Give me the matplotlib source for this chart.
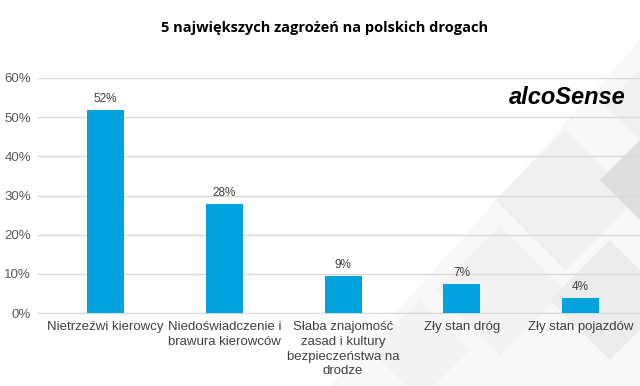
import matplotlib.pyplot as plt
from matplotlib.patches import Polygon

categories = ["Nietrzeźwi kierowcy", "Niedoświadczenie i\nbrawura kierowców",
              "Słaba znajomość\nzasad i kultury\nbezpieczeństwa na\ndrodze",
              "Zły stan dróg", "Zły stan pojazdów"]
values = [51.8, 27.8, 9.4, 7.4, 3.8]
value_labels = ["52%", "28%", "9%", "7%", "4%"]
yticks = [0, 10, 20, 30, 40, 50, 60]

plt.rcParams['font.family'] = ['Liberation Sans', 'DejaVu Sans']

fig = plt.figure(figsize=(6.4, 3.86), dpi=100)
W, H = 640, 386

# background decoration (light diamonds on the right), in pixel coords
bg = fig.add_axes([0, 0, 1, 1], zorder=-10)
bg.set_xlim(0, W)
bg.set_ylim(H, 0)
bg.axis('off')
bg.add_patch(Polygon([(640, 40), (640, 386), (330, 386)], closed=True,
                     facecolor='#f8f8f8', edgecolor='none'))
diamonds = [
    ((565, 200), 70, '#f0f0f0'),
    ((640, 180), 40, '#dedede'),
    ((500, 290), 65, '#f2f2f2'),
    ((610, 300), 60, '#ececec'),
    ((420, 350), 50, '#f3f3f3'),
    ((640, 105), 35, '#f0f0f0'),
]
for (cx, cy), r, c in diamonds:
    bg.add_patch(Polygon([(cx - r, cy), (cx, cy - r), (cx + r, cy), (cx, cy + r)], closed=True,
                         facecolor=c, edgecolor='none'))

ax = fig.add_axes([38 / W, 1 - 313 / H, 1 - 38 / W, (313 - 78) / H])
ax.set_facecolor('none')

x = list(range(len(categories)))
bars = ax.bar(x, values, width=0.31, color='#00A3DD', zorder=3)
for xi, v, lab in zip(x, values, value_labels):
    ax.text(xi, v + 1.3, lab, ha='center', va='bottom', fontsize=8.5, color='#404040')

ax.set_xlim(-0.57, 4.5)
ax.set_ylim(0, 60)
ax.set_yticks(yticks)
ax.set_yticklabels([f"{t}%" for t in yticks], fontsize=9.5, color='#595959')
ax.set_xticks(x)
ax.set_xticklabels(categories, fontsize=9.5, color='#404040', linespacing=1.3)
ax.tick_params(axis='both', length=0, pad=4)
ax.tick_params(axis='x', pad=6)
ax.tick_params(axis='y', pad=5)
ax.yaxis.grid(True, color='#d9d9d9', linewidth=1, zorder=0)
for s in ['top', 'right', 'left']:
    ax.spines[s].set_visible(False)
ax.spines['bottom'].set_color('#d9d9d9')

fig.text(0.507, 1 - 28 / H, "5 największych zagrożeń na polskich drogach", ha='center', va='center',
         fontsize=10.5, fontweight='bold', family=['Open Sans', 'DejaVu Sans'])
fig.text(567 / W, 1 - 97 / H, "alcoSense", ha='center', va='center', fontsize=17,
         fontweight='bold', style='italic', family=['Liberation Sans Narrow', 'Liberation Sans'])

fig.savefig('out.png', dpi=100)
